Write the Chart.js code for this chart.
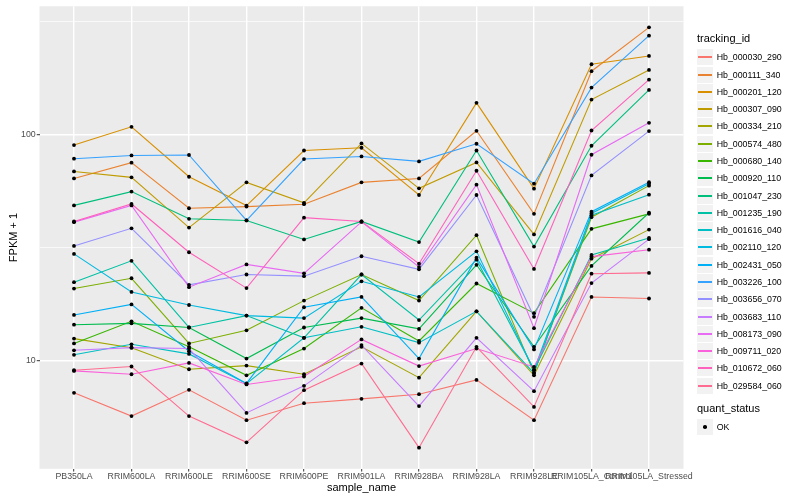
<!DOCTYPE html>
<html>
<head>
<meta charset="utf-8">
<script src="https://cdn.jsdelivr.net/npm/chart.js@4.4.0/dist/chart.umd.min.js"></script>
<style>
  body { margin: 0; background: #fff; }
  #wrap { position: relative; width: 800px; height: 500px; }
  #legend { position: absolute; left: 697px; top: 0; width: 103px; height: 500px;
            font-family: "Liberation Sans", Arial, Helvetica, sans-serif; color: #000; }
  .ltitle { position: absolute; left: 0; font-size: 11px; line-height: 13px; white-space: nowrap; }
  .lrow { position: absolute; left: 0; height: 16px; display: flex; align-items: center;
          white-space: nowrap; font-size: 8.8px; }
  .lkey { width: 16px; height: 16px; background: #F2F2F2; position: relative; margin-right: 3.7px; flex: none; }
  .lkey .ln { position: absolute; left: 1px; right: 1px; top: 7px; height: 1.6px; }
  .lkey .pt { position: absolute; left: 6.2px; top: 6.2px; width: 3.6px; height: 3.6px; border-radius: 50%; background: #000; }
</style>
</head>
<body>
<div id="wrap">
  <canvas id="chart" width="800" height="500"></canvas>
  <div id="legend"></div>
</div>
<script>
// Samples on the x axis
const sampleNames = ['PB350LA', 'RRIM600LA', 'RRIM600LE', 'RRIM600SE', 'RRIM600PE', 'RRIM901LA',
                     'RRIM928BA', 'RRIM928LA', 'RRIM928LE', 'RRIM105LA_Control', 'RRIM105LA_Stressed'];

// Genes (legend order)
const trackingIds = ['Hb_000030_290', 'Hb_000111_340', 'Hb_000201_120', 'Hb_000307_090', 'Hb_000334_210',
                     'Hb_000574_480', 'Hb_000680_140', 'Hb_000920_110', 'Hb_001047_230', 'Hb_001235_190',
                     'Hb_001616_040', 'Hb_002110_120', 'Hb_002431_050', 'Hb_003226_100', 'Hb_003656_070',
                     'Hb_003683_110', 'Hb_008173_090', 'Hb_009711_020', 'Hb_010672_060', 'Hb_029584_060'];

// FPKM + 1 per sample, one array per gene
const hb000030_290 = [7.20, 5.68, 7.42, 5.45, 6.48, 6.77, 7.10, 8.21, 5.45, 19.1, 18.8];
const hb000111_340 = [63.8, 74.9, 47.1, 47.9, 49.1, 61.3, 63.8, 103.6, 44.5, 190.0, 297];
const hb000201_120 = [89.6, 107.9, 64.9, 48.4, 84.8, 87.2, 53.9, 137.7, 57.5, 203.9, 221.9];
const hb000307_090 = [68.5, 64.5, 38.7, 61.3, 49.8, 91.1, 57.7, 75.1, 36.1, 142.4, 192.5];
const hb000334_210 = [12.5, 11.4, 9.15, 9.5, 8.7, 11.5, 8.4, 16.5, 8.6, 28.2, 37.9];
const hb000574_480 = [20.8, 23.1, 11.9, 13.6, 18.4, 24.0, 18.4, 35.8, 8.8, 43.0, 59.3];
const hb000680_140 = [11.9, 14.9, 11.5, 8.6, 11.3, 17.1, 12.2, 21.9, 16.2, 38.2, 44.5];
const hb000920_110 = [14.4, 14.6, 14.0, 10.2, 14.0, 15.4, 13.8, 26.5, 11.5, 26.2, 45.0];
const hb001047_230 = [48.5, 55.8, 42.3, 41.6, 34.3, 41.2, 33.4, 84.8, 31.9, 89.0, 157.1];
const hb001235_190 = [22.2, 27.6, 14.0, 15.8, 12.6, 24.0, 15.1, 27.9, 9.1, 29.3, 34.8];
const hb001616_040 = [10.6, 11.8, 10.7, 7.9, 12.6, 14.1, 12.0, 16.5, 8.8, 43.9, 54.1];
const hb002110_120 = [29.6, 20.1, 17.6, 15.8, 15.4, 22.4, 19.1, 30.4, 9.06, 44.7, 60.5];
const hb002431_050 = [15.9, 17.7, 11.0, 7.92, 17.2, 19.1, 10.2, 28.5, 11.2, 45.5, 61.4];
const hb003226_100 = [78.0, 80.6, 81.0, 41.6, 77.7, 79.8, 75.9, 90.8, 60.5, 160.8, 272.7];
const hb003656_070 = [32.1, 38.4, 21.6, 24.0, 23.6, 28.9, 25.3, 53.9, 15.6, 65.8, 103.3];
const hb003683_110 = [11.1, 11.4, 11.3, 5.87, 7.73, 11.7, 6.29, 12.6, 7.32, 22.0, 34.4];
const hb008173_090 = [40.9, 48.5, 21.1, 26.6, 24.3, 41.0, 25.9, 59.9, 13.9, 81.2, 112.4];
const hb009711_020 = [9.0, 8.7, 9.76, 7.84, 8.5, 12.4, 9.45, 11.3, 9.37, 28.8, 30.9];
const hb010672_060 = [41.2, 49.2, 30.1, 20.9, 42.8, 41.2, 26.8, 69.0, 25.4, 103.9, 174.4];
const hb029584_060 = [9.06, 9.41, 5.68, 4.35, 7.40, 9.70, 4.12, 11.5, 6.24, 24.2, 24.4];

const seriesValues = [hb000030_290, hb000111_340, hb000201_120, hb000307_090, hb000334_210,
                      hb000574_480, hb000680_140, hb000920_110, hb001047_230, hb001235_190,
                      hb001616_040, hb002110_120, hb002431_050, hb003226_100, hb003656_070,
                      hb003683_110, hb008173_090, hb009711_020, hb010672_060, hb029584_060];

// y axis: labelled breaks and the minor grid in between
const yTickValues = [10, 100];
const yTickLabels = ['10', '100'];
const yMinorValues = [31.62, 316.2];

// ggplot hue palette for 20 groups
const lineColors = ['#F8766D', '#EA8331', '#D89000', '#C09B00', '#A3A500', '#7CAE00', '#39B600',
                    '#00BB4E', '#00BF7D', '#00C1A3', '#00BFC4', '#00BAE0', '#00B0F6', '#35A2FF',
                    '#9590FF', '#C77CFF', '#E76BF3', '#FA62DB', '#FF62BC', '#FF6C91'];

const fontFamily = '"Liberation Sans", Arial, Helvetica, sans-serif';
Chart.defaults.font.family = fontFamily;

// grey panel behind the grid
const panelBg = {
    id: 'panelBg',
    beforeDraw(chart) {
        const { ctx, chartArea: a } = chart;
        ctx.save();
        ctx.fillStyle = '#EBEBEB';
        ctx.fillRect(a.left, a.top, a.right - a.left, a.bottom - a.top);
        ctx.restore();
    }
};

// one line per gene; first gene drawn at the bottom like ggplot
const datasets = seriesValues.map((vals, i) => ({
    type: 'line',
    label: trackingIds[i],
    data: vals.map((v, j) => ({ x: j, y: v })),
    borderColor: lineColors[i],
    borderWidth: 1.1,
    pointRadius: 0,
    fill: false,
    tension: 0,
    order: 40 - i
}));

// all points on top (quant_status = OK)
datasets.push({
    type: 'scatter',
    label: 'OK',
    data: seriesValues.flatMap(vals => vals.map((v, j) => ({ x: j, y: v }))),
    backgroundColor: '#000',
    borderColor: '#000',
    pointRadius: 1.9,
    pointBorderWidth: 0,
    showLine: false,
    order: 0
});

const isMajor = v => yTickValues.includes(v);

new Chart(document.getElementById('chart').getContext('2d'), {
    type: 'line',
    data: { datasets: datasets },
    plugins: [panelBg],
    options: {
        responsive: false,
        animation: false,
        layout: { padding: { left: 0, top: 5.2, right: 116.5, bottom: 0 } },
        plugins: { legend: { display: false }, tooltip: { enabled: false } },
        scales: {
            x: {
                type: 'linear',
                min: -0.6,
                max: 10.6,
                afterBuildTicks: s => { s.ticks = sampleNames.map((n, i) => ({ value: i })); },
                afterFit: s => { s.height = 31.2; },
                border: { display: false },
                grid: { color: '#FFFFFF', lineWidth: 1.4, tickColor: '#333333', tickLength: 2.75, tickWidth: 1 },
                ticks: {
                    autoSkip: false, maxRotation: 0, minRotation: 0, padding: 0,
                    color: '#4D4D4D', font: { size: 8.8 },
                    callback: v => sampleNames[v]
                },
                title: { display: true, text: 'sample_name', color: '#000', font: { size: 11 },
                         padding: { top: 0, bottom: 5 } }
            },
            y: {
                type: 'logarithmic',
                min: 3.323,
                max: 367.9,
                afterBuildTicks: s => {
                    s.ticks = yTickValues.concat(yMinorValues).sort((a, b) => a - b).map(v => ({ value: v }));
                },
                afterFit: s => { s.width = 39.5; },
                border: { display: false },
                grid: {
                    color: '#FFFFFF',
                    lineWidth: c => isMajor(c.tick.value) ? 1.4 : 0.7,
                    tickColor: c => isMajor(c.tick.value) ? '#333333' : 'rgba(0,0,0,0)',
                    tickLength: 2.75,
                    tickWidth: 1
                },
                ticks: {
                    autoSkip: false, padding: 1, color: '#4D4D4D', font: { size: 8.8 },
                    callback: v => isMajor(v) ? yTickLabels[yTickValues.indexOf(v)] : ''
                },
                title: { display: true, text: 'FPKM + 1', color: '#000', font: { size: 11 },
                         padding: { top: 7, bottom: 0 } }
            }
        }
    }
});

// legend on the right
function buildLegend() {
    const legend = document.getElementById('legend');
    const title = document.createElement('div');
    title.className = 'ltitle';
    title.style.top = '32px';
    title.textContent = 'tracking_id';
    legend.appendChild(title);

    trackingIds.forEach((id, i) => {
        const row = document.createElement('div');
        row.className = 'lrow';
        row.style.top = Math.round(49.3 + i * 17.28) + 'px';
        const key = document.createElement('div');
        key.className = 'lkey';
        const ln = document.createElement('div');
        ln.className = 'ln';
        ln.style.background = lineColors[i];
        key.appendChild(ln);
        row.appendChild(key);
        const label = document.createElement('span');
        label.textContent = id;
        row.appendChild(label);
        legend.appendChild(row);
    });

    const qTitle = document.createElement('div');
    qTitle.className = 'ltitle';
    qTitle.style.top = '402px';
    qTitle.textContent = 'quant_status';
    legend.appendChild(qTitle);

    const okRow = document.createElement('div');
    okRow.className = 'lrow';
    okRow.style.top = '419px';
    const okKey = document.createElement('div');
    okKey.className = 'lkey';
    const pt = document.createElement('div');
    pt.className = 'pt';
    okKey.appendChild(pt);
    okRow.appendChild(okKey);
    const okLabel = document.createElement('span');
    okLabel.textContent = 'OK';
    okRow.appendChild(okLabel);
    legend.appendChild(okRow);
}

buildLegend();
</script>
</body>
</html>
